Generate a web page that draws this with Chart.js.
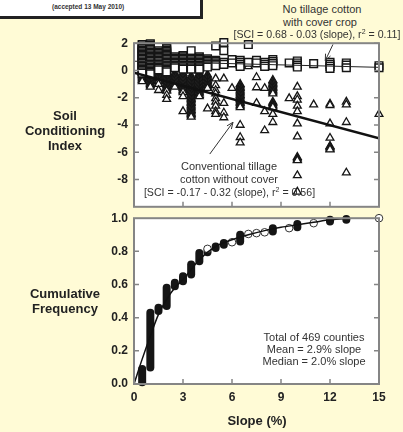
<!DOCTYPE html>
<html>
<head>
<meta charset="utf-8">
<script src="https://cdn.jsdelivr.net/npm/chart.js@4"></script>
<style>
html, body { margin: 0; padding: 0; width: 403px; height: 432px; overflow: hidden; background: #fffbd6; font-family: "Liberation Sans", Arial, sans-serif; }
canvas { position: absolute; }
.t { position: absolute; white-space: nowrap; transform: translate(-50%, -50%); color: #333; font-size: 11px; }
.b { font-size: 10.6px; }
.axt { position: absolute; text-align: center; transform: translate(-50%, -50%); font-weight: bold; font-size: 13px; line-height: 15px; color: #222; }
sup { font-size: 7px; vertical-align: 4px; line-height: 0; }
#box { position: absolute; left: -3px; top: -10px; width: 200px; height: 23px; background: #fff; border: 3px solid #222; box-sizing: content-box; }
#box span { position: absolute; left: 52px; top: 10px; font-size: 6.5px; font-weight: bold; color: #333; }
</style>
</head>
<body>
<div id="box"><span>(accepted 13 May 2010)</span></div>
<canvas id="sci" width="300" height="190" style="left:100px;top:30px;width:300px;height:190px"></canvas>
<canvas id="cdf" width="300" height="227" style="left:100px;top:205px;width:300px;height:227px"></canvas>

<div class="t" style="left:322px;top:9px">No tillage cotton</div>
<div class="t" style="left:320px;top:22px">with cover crop</div>
<div class="t b" style="left:317px;top:34px">[SCI = 0.68 - 0.03 (slope), r<sup>2</sup> = 0.11]</div>

<div class="t" style="left:229px;top:166px">Conventional tillage</div>
<div class="t" style="left:229px;top:178.5px">cotton without cover</div>
<div class="t b" style="left:229.5px;top:192px">[SCI = -0.17 - 0.32 (slope), r<sup>2</sup> = 0.56]</div>

<div class="t" style="left:314px;top:337px">Total of 469 counties</div>
<div class="t" style="left:314px;top:349px">Mean = 2.9% slope</div>
<div class="t" style="left:314px;top:361px">Median = 2.0% slope</div>

<div class="axt" style="left:65px;top:130px">Soil<br>Conditioning<br>Index</div>
<div class="axt" style="left:65px;top:301px">Cumulative<br>Frequency</div>
<div class="axt" style="left:257px;top:420px">Slope (%)</div>

<script>
// slope classes (%) shared by both SCI series
const slopeLevels = [0.5, 1, 1.5, 2, 2.5, 3, 3.5, 4, 4.5, 5, 5.5, 6, 6.5, 7, 7.5, 8, 8.5, 9.5, 10, 11, 12, 13, 15];

// no tillage cotton with cover crop, SCI per slope class
const noTillSCI = [
    [1.9, 1.8, 1.7, 1.6, 1.5, 1.4, 1.3, 1.2, 1.1, 1.0, 0.9, 0.8, 0.7, 0.6, 0.5, 0.4, 0.3, 0.2, 0.1, 0.0, -0.1, -0.2],
    [1.95, 1.85, 1.75, 1.65, 1.55, 1.45, 1.35, 1.25, 1.15, 1.05, 0.95, 0.85, 0.75, 0.65, 0.55, 0.45, 0.35, 0.25, 0.15, 0.05, -0.05, -0.15, -0.25],
    [1.45, 1.35, 1.25, 1.15, 1.05, 0.95, 0.85, 0.75, 0.65, 0.55, 0.45, 0.35, 0.25, 0.15, 0.05],
    [1.7, 1.6, 1.5, 1.4, 1.3, 1.2, 1.1, 1.0, 0.9, 0.8, 0.7, 0.6, 0.5, 0.4, 0.3, 0.2, 0.1, 0.0, -0.1],
    [1.0, 0.9, 0.8, 0.7, 0.6, 0.5, 0.4, 0.3, 0.2],
    [1.1, 1.0, 0.9, 0.8, 0.7, 0.6, 0.5, 0.4, 0.3, 0.2, 0.1],
    [1.45, 0.9, 0.8, 0.7, 0.6, 0.5, 0.4, 0.3, 0.2, 0.1],
    [1.0, 0.9, 0.8, 0.7, 0.6, 0.5, 0.4, 0.3, 0.2, 0.1],
    [0.85, 0.75, 0.65, 0.55, 0.45, 0.35, 0.25],
    [1.8, 0.75, 0.65, 0.55, 0.45, 0.35],
    [2.05, 1.45, 0.6, 0.45],
    [0.8, 0.55],
    [0.75, 0.6, 0.45, 0.3],
    [1.9, 0.6],
    [0.75, 0.55],
    [0.6, 0.45, 0.3],
    [0.8, 0.65, 0.5, 0.35],
    [0.55],
    [0.7, 0.55, 0.4, 0.25],
    [0.5],
    [0.6, 0.45, 0.3, 0.15],
    [0.55, 0.4, 0.2],
    [0.35, 0.2],
];

// conventional tillage cotton without cover, SCI per slope class
const convSCI = [
    [0.0, -0.1, -0.2, -0.3, -0.4, -0.5, -0.6, -0.7, -0.8],
    [0.0, -0.1, -0.2, -0.3, -0.4, -0.5, -0.6, -0.7, -0.8, -0.9, -1.0, -1.1, -1.2],
    [-0.1, -0.2, -0.3, -0.4, -0.5, -0.6, -0.7, -0.8, -1.0, -1.45],
    [-0.1, -0.2, -0.3, -0.4, -0.5, -0.6, -0.7, -0.8, -0.9, -1.0, -1.1, -1.2, -1.3, -1.4, -1.5, -1.8, -2.1],
    [-0.2, -0.3, -0.4, -0.5, -0.6, -0.7, -0.8, -0.9, -1.0, -1.1, -1.2],
    [-0.2, -0.3, -0.4, -0.5, -0.6, -0.7, -0.8, -0.9, -1.0, -1.1, -1.2, -1.3, -1.4, -1.5, -1.6, -1.9, -3.0],
    [-0.4, -0.5, -0.6, -0.7, -0.8, -0.9, -1.0, -1.1, -1.2, -1.3, -1.4, -1.5, -1.6, -1.7, -1.8, -1.9, -2.0, -2.1,
     -2.2, -2.3, -2.4, -2.5, -2.6, -2.7, -2.8, -2.9, -3.0, -3.1, -3.2, -3.3, -3.4],
    [-0.2, -0.3, -0.4, -0.5, -0.6, -0.7, -0.8, -0.9, -1.0, -1.1, -1.2, -1.3, -1.4, -1.5, -1.6, -1.7, -1.8, -1.9],
    [-0.3, -0.4, -0.5, -0.6, -0.7, -0.8, -0.9, -1.0, -1.1, -1.2, -1.3, -2.8],
    [-0.6, -1.1, -1.45, -1.7, -2.05, -2.3, -2.6, -3.0, -3.2],
    [-0.6, -2.4, -3.1, -3.45],
    [-1.3],
    [-1.0, -1.1, -1.2, -1.3, -1.4, -1.5, -1.6, -1.7, -1.8, -1.9, -2.0, -2.1, -2.2, -2.3, -2.4, -2.5, -2.6, -2.7, -4.0, -4.9, -5.3],
    [0.3],
    [-0.5, -1.25, -2.4],
    [-1.3, -3.0, -4.4],
    [-0.7, -0.8, -0.9, -1.0, -1.1, -1.2, -1.3, -1.4, -1.5, -1.6, -1.7, -2.3, -2.4, -2.5, -2.6, -2.7, -3.2, -3.8],
    [-2.05],
    [-1.2, -1.9, -2.15, -2.6, -3.0, -3.9, -4.85, -6.35, -6.45, -6.55, -6.6, -7.7, -8.9],
    [-2.5],
    [-2.45, -2.55, -3.9, -4.95, -5.55, -5.6, -5.65, -5.75, -5.8],
    [-2.3, -2.5, -3.8, -7.5],
    [-3.2],
];

// regression lines, end points at slope 0 and 15
const fitSlope = [0, 15];
const noTillFit = [0.68, 0.23];
const convFit = [-0.17, -4.97];

// cumulative frequency: stacked runs of counties (low..high) and lone counties
const cdfRunSlope = [0.5, 1, 1.5, 2, 2.5, 3, 3.5, 4, 4.5, 5, 5.5, 6.5, 8.5, 10, 12, 13];
const cdfRunLow   = [0.01, 0.10, 0.44, 0.47, 0.59, 0.62, 0.66, 0.74, 0.795, 0.82, 0.84, 0.86, 0.92, 0.945, 0.98, 0.99];
const cdfRunHigh  = [0.09, 0.43, 0.46, 0.58, 0.61, 0.65, 0.72, 0.79, 0.80, 0.83, 0.85, 0.90, 0.94, 0.965, 0.99, 0.995];
const cdfLoneSlope = [4.5, 6, 7, 7.5, 8, 9.5, 11, 15];
const cdfLoneValue = [0.815, 0.855, 0.905, 0.91, 0.915, 0.94, 0.97, 1.0];

// fitted cumulative curve
const cdfFitSlope = [0, 0.5, 1, 1.5, 2, 2.5, 3, 3.5, 4, 5, 6, 7, 8, 9, 10, 11, 12, 13.3];
const cdfFitValue = [0, 0.15, 0.29, 0.42, 0.51, 0.58, 0.63, 0.69, 0.75, 0.83, 0.87, 0.9, 0.925, 0.945, 0.96, 0.975, 0.99, 1.0];

const slopeTicks = [0, 3, 6, 9, 12, 15];

Chart.defaults.font.family = '"Liberation Sans", Arial, sans-serif';

function columnPoints(values) {
    const pts = [];
    slopeLevels.forEach((s, i) => values[i].forEach(v => pts.push({ x: s, y: v })));
    return pts;
}

function pairs(xs, ys) {
    return xs.map((x, i) => ({ x: x, y: ys[i] }));
}

// white plot area, grey frame and inward ticks
const framePlugin = {
    id: 'frame',
    beforeDraw(chart) {
        const a = chart.chartArea, ctx = chart.ctx;
        ctx.save();
        ctx.fillStyle = '#fff';
        ctx.fillRect(a.left, a.top, a.right - a.left, a.bottom - a.top);
        ctx.restore();
    },
    afterDraw(chart, args, opts) {
        const a = chart.chartArea, ctx = chart.ctx;
        const x = chart.scales.x, y = chart.scales.y;
        ctx.save();
        ctx.strokeStyle = '#858585';
        ctx.lineWidth = 1.5;
        ctx.beginPath();
        opts.yTicks.forEach(v => {
            const py = y.getPixelForValue(v);
            ctx.moveTo(a.left, py); ctx.lineTo(a.left + 5, py);
            ctx.moveTo(a.right, py); ctx.lineTo(a.right - 5, py);
        });
        slopeTicks.slice(1, -1).forEach(v => {
            const px = x.getPixelForValue(v);
            ctx.moveTo(px, a.bottom); ctx.lineTo(px, a.bottom - 5);
        });
        ctx.stroke();
        ctx.lineWidth = 2;
        ctx.strokeRect(a.left, a.top, a.right - a.left, a.bottom - a.top);
        ctx.restore();
    }
};

// annotation arrows, given in data units
const arrowPlugin = {
    id: 'arrows',
    afterDatasetsDraw(chart, args, opts) {
        const ctx = chart.ctx, x = chart.scales.x, y = chart.scales.y;
        ctx.save();
        ctx.strokeStyle = '#333';
        ctx.lineWidth = 1;
        (opts.items || []).forEach(a => {
            const x0 = x.getPixelForValue(a.from[0]), y0 = y.getPixelForValue(a.from[1]);
            const x1 = x.getPixelForValue(a.to[0]), y1 = y.getPixelForValue(a.to[1]);
            const ang = Math.atan2(y1 - y0, x1 - x0);
            ctx.beginPath();
            ctx.moveTo(x0, y0); ctx.lineTo(x1, y1);
            ctx.moveTo(x1 - 7 * Math.cos(ang - 0.4), y1 - 7 * Math.sin(ang - 0.4));
            ctx.lineTo(x1, y1);
            ctx.lineTo(x1 - 7 * Math.cos(ang + 0.4), y1 - 7 * Math.sin(ang + 0.4));
            ctx.stroke();
        });
        ctx.restore();
    }
};

const tickFont = { size: 12, weight: 'bold' };

new Chart(document.getElementById('sci'), {
    type: 'scatter',
    data: {
        datasets: [
            { label: 'Conventional fit', data: pairs(fitSlope, convFit), showLine: true, borderColor: '#111', borderWidth: 2.5, pointRadius: 0 },
            { label: 'No tillage fit', data: pairs(fitSlope, noTillFit), showLine: true, borderColor: '#222', borderWidth: 1, pointRadius: 0 },
            { label: 'No tillage cotton', data: columnPoints(noTillSCI), pointStyle: 'rect', pointRadius: 5.4, borderColor: '#151515', backgroundColor: '#fff', borderWidth: 1.45, clip: false },
            { label: 'Conventional tillage cotton', data: columnPoints(convSCI), pointStyle: 'triangle', pointRadius: 4.5, borderColor: '#151515', backgroundColor: '#fff', borderWidth: 1.3, clip: false },
        ]
    },
    options: {
        responsive: false,
        animation: false,
        layout: { padding: { top: 13, right: 21, bottom: 7, left: 0 } },
        plugins: {
            legend: { display: false },
            tooltip: { enabled: false },
            frame: { yTicks: [-8, -6, -4, -2, 0, 2] },
            arrows: { items: [
                { from: [12.18, 1.91], to: [11.71, 0.72] },
                { from: [4.64, -6.13], to: [6.06, -3.8] },
            ] },
        },
        scales: {
            x: { type: 'linear', min: 0, max: 15, display: false },
            y: {
                min: -10, max: 2,
                afterFit: s => { s.width = 34; },
                grid: { display: false, drawTicks: false },
                border: { display: false },
                ticks: { stepSize: 2, padding: 6, color: '#222', font: tickFont,
                    callback: v => (v === -10 ? '' : String(v)) },
            },
        },
    },
    plugins: [framePlugin, arrowPlugin],
});

const runSets = cdfRunSlope.map((s, i) => ({
    label: 'run ' + s,
    data: [{ x: s, y: cdfRunLow[i] }, { x: s, y: cdfRunHigh[i] }],
    showLine: true, borderColor: '#151515', borderWidth: 8, borderCapStyle: 'round', pointRadius: 0, clip: false,
}));

new Chart(document.getElementById('cdf'), {
    type: 'scatter',
    data: {
        datasets: [
            { label: 'Fitted', data: pairs(cdfFitSlope, cdfFitValue), showLine: true, borderColor: '#111', borderWidth: 1.5, pointRadius: 0, tension: 0.3, cubicInterpolationMode: 'monotone' },
            { label: 'Counties', data: pairs(cdfLoneSlope, cdfLoneValue), pointStyle: 'circle', pointRadius: 3.8, borderColor: '#333', backgroundColor: '#fff', borderWidth: 1, clip: false },
        ].concat(runSets)
    },
    options: {
        responsive: false,
        animation: false,
        layout: { padding: { top: 8, right: 21, bottom: 0, left: 0 } },
        plugins: {
            legend: { display: false },
            tooltip: { enabled: false },
            frame: { yTicks: [0.2, 0.4, 0.6, 0.8] },
        },
        scales: {
            x: {
                type: 'linear', min: 0, max: 15,
                afterFit: s => { s.height = 48; },
                grid: { display: false, drawTicks: false },
                border: { display: false },
                ticks: { stepSize: 3, padding: 6, color: '#222', font: tickFont },
            },
            y: {
                min: 0, max: 1,
                afterFit: s => { s.width = 34; },
                grid: { display: false, drawTicks: false },
                border: { display: false },
                ticks: { stepSize: 0.2, padding: 6, color: '#222', font: tickFont,
                    callback: v => v.toFixed(1) },
            },
        },
    },
    plugins: [framePlugin],
});
</script>
</body>
</html>
